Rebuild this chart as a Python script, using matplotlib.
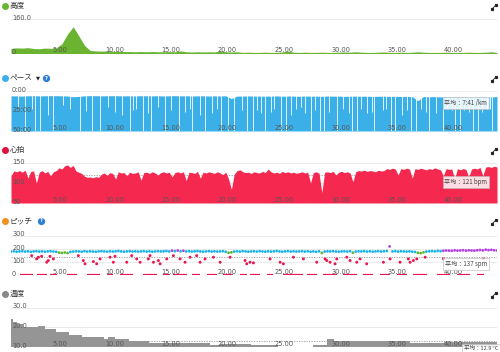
import numpy as np
import matplotlib
matplotlib.use('Agg')
import matplotlib.pyplot as plt
from matplotlib.lines import Line2D
from matplotlib.transforms import blended_transform_factory

plt.rcParams['font.family'] = ['Noto Sans CJK JP', 'DejaVu Sans']

# datos (distancia en km)
elev_km = np.arange(0, 43.01, 0.5)
elev_m = [24, 26, 25, 27, 23, 22, 25, 24, 26,
          45, 90, 124, 82, 38, 14,
          12, 11, 12, 10, 11,
          9, 9, 8, 9, 8, 9, 8, 8, 9, 8, 12, 8, 7, 8, 7, 8, 7, 12, 8, 7, 8,
          5, 6, 5, 5, 6, 5, 5, 7, 11, 6,
          5, 6, 5, 5, 6, 5, 5, 6, 7, 6,
          8, 6, 5, 5, 6, 7, 5, 5, 6, 5,
          6, 8, 6, 5, 5, 5, 6, 5, 5, 5,
          6, 5, 5, 6, 8, 5]

pace_km = np.arange(0, 43.01, 0.5)
pace_min = [6.0, 6.2, 6.4, 6.0, 5.9, 6.1, 6.0, 5.8, 5.9, 6.0,
            6.3, 7.2, 6.8, 6.0, 5.8, 5.9, 6.1, 6.0, 5.9, 6.0,
            6.1, 6.0, 6.2, 5.9, 6.0, 6.1, 6.0, 6.2, 6.0, 5.9,
            6.1, 6.0, 6.2, 6.1, 6.0, 6.3, 6.1, 6.2, 6.0, 9.5,
            6.4, 6.3, 6.2, 6.4, 6.3, 6.5, 6.4, 6.2, 6.5, 6.3,
            6.4, 6.6, 6.3, 6.5, 6.4, 6.6, 6.3, 6.5, 6.4, 6.7,
            6.5, 6.4, 6.6, 6.5, 6.8, 6.6, 6.5, 6.7, 6.6, 6.9,
            6.7, 7.0, 12.0, 6.9, 7.2, 7.0, 7.4, 7.1, 7.5, 7.3,
            7.6, 7.2, 7.8, 7.4, 7.6, 7.3, 7.0]
# tramos lentos (paradas) -> rayas blancas
spike_km = [0.6, 1.2, 1.9, 2.1, 2.6, 3.3, 3.7, 4.6, 5.2, 6.1, 6.6, 7.2, 7.9, 8.6, 9.2,
            9.8, 10.5, 10.8, 11.1, 11.7, 12.1, 12.4, 13.0, 13.6, 14.2, 14.9, 15.4,
            15.8, 16.0, 16.7, 17.2, 17.8, 18.2, 18.6, 19.2, 19.7, 20.4, 20.9, 21.4,
            21.8, 22.1, 22.5, 23.0, 23.3, 23.9, 24.3, 24.8, 25.2, 25.7, 26.0, 26.5,
            26.9, 27.3, 27.7, 28.1, 28.8, 29.4, 29.9, 30.2, 30.6, 31.0, 31.5, 31.9,
            32.1, 32.9, 33.2, 33.6, 34.0, 34.6, 35.0, 35.4, 35.8, 36.3, 36.7, 37.0,
            37.6, 38.2, 38.6, 39.0, 39.3, 39.7, 40.1, 40.5, 40.9, 41.3, 41.7, 42.1,
            42.4, 42.6]
spike_pace = [20, 50, 22, 50, 50, 30, 50, 18, 22, 50, 25, 50, 50, 20, 26,
              30, 50, 24, 22, 50, 28, 50, 20, 50, 24, 50, 26,
              22, 50, 30, 50, 28, 22, 50, 50, 50, 24, 50, 50,
              24, 28, 50, 26, 22, 50, 50, 30, 22, 20, 28, 50,
              24, 50, 50, 26, 50, 22, 28, 50, 50, 22, 28, 26,
              50, 24, 22, 50, 50, 30, 24, 50, 50, 22, 26, 50,
              28, 50, 22, 24, 50, 50, 24, 26, 50, 50, 26, 22,
              22, 50]

hr_km = np.arange(0, 43.01, 0.25)
hr_bpm = [118, 130, 128, 131, 127, 132, 112, 129, 130, 100, 127, 131,
          125, 129, 118, 128, 131, 138, 135, 143, 145, 139, 144, 130,
          127, 124, 117, 114, 115, 113, 116, 114, 122, 125, 119, 126,
          124, 110, 128, 125, 126, 118, 127, 124, 125, 128, 107, 126,
          127, 124, 128, 125, 120, 126, 128, 125, 127, 115, 126, 128,
          125, 128, 106, 127, 126, 124, 129, 112, 127, 125, 128, 126,
          124, 128, 125, 121, 127, 110, 84, 122, 131, 133, 128, 126,
          127, 124, 128, 126, 125, 129, 126, 135, 128, 125, 127, 124,
          129, 126, 128, 125, 127, 124, 126, 128, 125, 127, 100, 126,
          128, 125, 76, 127, 128, 126, 129, 120, 127, 129, 126, 128,
          125, 103, 128, 131, 130, 132, 129, 131, 130, 128, 132, 130,
          131, 136, 134, 137, 135, 120, 136, 134, 137, 135, 112, 136,
          134, 137, 135, 133, 136, 134, 138, 135, 133, 118, 136, 134,
          135, 110, 136, 133, 136, 134, 115, 135, 137, 135, 139, 118,
          140, 141, 139, 142, 140]

cad_km = np.arange(0, 43.01, 0.25)
cad_spm = [178, 180, 177, 179, 181, 178, 180, 176, 179, 181, 178, 180,
           177, 179, 181, 178, 176, 170, 168, 171, 167, 175, 178, 180,
           179, 177, 181, 178, 180, 178, 176, 179, 181, 179, 177, 180,
           178, 180, 182, 179, 177, 179, 181, 178, 180, 178, 179, 181,
           178, 180, 177, 179, 181, 179, 180, 182, 179, 185, 181, 186,
           180, 184, 179, 181, 178, 180, 182, 179, 177, 179, 181, 178,
           180, 178, 179, 181, 176, 169, 172, 178, 180, 178, 181, 179,
           177, 179, 180, 178, 181, 179, 177, 180, 178, 180, 182, 179,
           177, 179, 181, 178, 180, 178, 179, 181, 178, 180, 177, 179,
           176, 180, 168, 178, 180, 179, 181, 178, 177, 179, 180, 178,
           181, 170, 178, 180, 179, 181, 178, 180, 177, 179, 181, 178,
           180, 182, 217, 179, 181, 178, 180, 179, 178, 180, 177, 175,
           168, 166, 172, 178, 180, 182, 179, 183, 181, 184, 186, 185,
           184, 187, 185, 186, 188, 185, 187, 186, 185, 188, 190, 187,
           192, 189, 191, 188, 186]
low_km = [1.83, 2.27, 2.42, 2.71, 3.16, 3.30, 3.45, 3.75, 5.96, 6.40, 6.55, 7.29,
          7.58, 7.88, 8.76, 9.06, 9.20, 10.24, 10.68, 11.12, 11.42, 12.15, 12.30,
          12.60, 13.04, 13.19, 13.78, 14.37, 14.96, 15.40, 15.84, 16.43, 16.73,
          17.17, 17.91, 18.50, 19.38, 20.71, 20.86, 21.15, 21.45, 22.92, 23.81,
          24.10, 24.99, 25.87, 27.05, 27.79, 27.94, 28.23, 28.67, 28.82, 29.71,
          30.00, 30.59, 30.88, 31.47, 32.95, 33.54, 34.42, 35.16, 35.31, 35.60,
          35.90, 36.64, 38.27, 41.81]
low_spm = [147, 122, 135, 142, 97, 110, 142, 122, 147, 110, 85, 102,
           85, 122, 135, 97, 142, 97, 147, 122, 97, 122, 147,
           97, 110, 85, 122, 147, 122, 97, 135, 147, 97,
           122, 135, 97, 135, 110, 85, 97, 92, 122, 97,
           85, 135, 122, 97, 122, 110, 97, 85, 122, 135,
           110, 97, 122, 85, 97, 122, 97, 122, 97, 110,
           122, 135, 122, 122]
zero_start = [0.80, 2.27, 3.45, 4.93, 6.70, 8.47, 9.65, 11.71, 13.48, 14.37, 16.00,
              17.32, 18.79, 20.27, 21.15, 22.62, 24.10, 26.17, 27.64, 29.41, 31.18,
              32.65, 34.13, 35.60, 37.67, 39.45, 41.22]
zero_end = [1.98, 3.16, 4.04, 5.81, 7.88, 9.06, 10.83, 12.89, 14.07, 15.55, 16.73,
            18.20, 19.68, 20.86, 22.04, 23.21, 25.87, 27.05, 28.82, 30.59, 32.06,
            33.54, 35.01, 36.78, 38.86, 40.63, 41.81]

temp_km = [0, 0.2, 0.5, 1.1, 2.4, 3.0, 4.0, 5.1, 6.3, 8.2, 8.6, 9.2, 10.4, 12.2,
           17.6, 18.5, 21.2, 23.6, 26.7, 28.0, 28.6, 35.3, 38.3, 43.0]
temp_c = [24.2, 22.8, 21.6, 20.3, 20.8, 19.1, 17.8, 16.2, 14.9, 14.0, 15.2, 14.0,
          12.9, 12.0, 10.8, 11.5, 10.8, 10.0, 11.0, 14.0, 12.9, 12.2, 12.7, 12.7]

xticks = [5, 10, 15, 20, 25, 30, 35, 40]

# colores
GREEN = '#6ab432'
BLUE = '#3bb0e8'
RED = '#f5294f'
GRAY = '#959595'
C_CYAN, C_GREEN, C_PURPLE, C_ORANGE, C_RED = '#1cb3e8', '#5cb82b', '#b53fe0', '#f09a20', '#e8174f'

W, H = 500, 352
fig = plt.figure(figsize=(5, 3.52), dpi=100)


def make_ax(top, bottom):
    ax = fig.add_axes([11 / W, 1 - bottom / H, 486 / W, (bottom - top) / H])
    ax.set_xlim(0, 43)
    ax.axis('off')
    return ax


def ylabels(ax, vals, texts):
    for v, t in zip(vals, texts):
        ax.axhline(v, color='#e8e8e8', lw=0.6, zorder=0)
        ax.annotate(t, xy=(0, v), xycoords=('axes fraction', 'data'), xytext=(0.8, 0.8),
                    textcoords='offset points', ha='left', va='center', fontsize=4.8,
                    color='#555555', family='DejaVu Sans', zorder=6, annotation_clip=False)


def xlabels(ax):
    tr = blended_transform_factory(ax.transData, ax.transAxes)
    for v in xticks:
        ax.text(v, 0.0, f'{v:.2f}', transform=tr, ha='right', va='bottom', fontsize=4.8,
                color='#555555', family='DejaVu Sans', zorder=6)


def avg_box(ax, x, y, t, fs=4.4):
    ax.text(x, y, t, transform=ax.transAxes, ha='center', va='center', fontsize=fs,
            color='#444444', zorder=7,
            bbox=dict(boxstyle='square,pad=0.3', fc='white', ec='#bbbbbb', lw=0.5, alpha=0.85))


def title(y, color, text):
    fig.add_artist(Line2D([5 / W], [1 - y / H], marker='o', markersize=4, color=color,
                          transform=fig.transFigure))
    fig.text(10 / W, 1 - y / H, text, fontsize=5.5, color='#333333', va='center', ha='left')
    # icono de ampliar
    yy = 1 - (y + 1) / H
    fig.add_artist(Line2D([492 / W, 496 / W], [yy - 2 / H, yy + 2 / H], lw=0.6, color='#222222',
                          marker='s', markersize=1.3, transform=fig.transFigure))


def help_icon(x, y):
    fig.add_artist(Line2D([x / W], [1 - y / H], marker='o', markersize=4.2, color='#2b7fd4',
                          transform=fig.transFigure))
    fig.text(x / W, 1 - y / H, '?', fontsize=3.6, color='white', ha='center', va='center',
             weight='bold', family='DejaVu Sans')


# 1) altura
ax1 = make_ax(19, 53.5)
ax1.set_ylim(0, 160)
ylabels(ax1, [160, 0], ['160.0', '0'])
ax1.fill_between(elev_km, elev_m, 0, color=GREEN, lw=0, zorder=2)
xlabels(ax1)
title(6, GREEN, '高度')

# 2) ritmo (eje invertido)
ax2 = make_ax(91, 131)
ax2.set_ylim(50, 0)
ylabels(ax2, [0, 25, 50], ['0:00', '25:00', '50:00'])
ax2.fill_between(pace_km, pace_min, 50, color=BLUE, lw=0, zorder=2)
ax2.vlines(spike_km, 0, spike_pace, color='white', lw=0.7, alpha=0.85, zorder=3)
xlabels(ax2)
avg_box(ax2, 0.936, 0.70, '平均：7:41 /km')
title(78, BLUE, 'ペース')
fig.text(37.5 / W, 1 - 78 / H, '▼', fontsize=3.8, color='#222222', ha='center', va='center',
         family='DejaVu Sans')
help_icon(46, 78)

# 3) pulso
ax3 = make_ax(163, 203)
ax3.set_ylim(50, 150)
ylabels(ax3, [150, 100, 50], ['150', '100', '50'])
ax3.axhline(121, color='#999999', lw=0.6, ls=(0, (1.5, 1.5)), zorder=1)
ax3.fill_between(hr_km, hr_bpm, 50, color=RED, lw=0, zorder=2)
xlabels(ax3)
avg_box(ax3, 0.936, 0.52, '平均：121 bpm')
title(150, '#e0103f', '心拍')

# 4) cadencia, color por zona
ax4 = make_ax(235.5, 275)
ax4.set_ylim(0, 300)
ylabels(ax4, [300, 200, 100, 0], ['300', '200', '100', '0'])
ax4.axhline(137, color='#999999', lw=0.6, ls=(0, (1.5, 1.5)), zorder=1)


def zone_color(v):
    if v >= 184:
        return C_PURPLE
    if v >= 174:
        return C_CYAN
    if v >= 164:
        return C_GREEN
    if v >= 153:
        return C_ORANGE
    return C_RED


ax4.hlines([3] * len(zero_start), zero_start, zero_end, color=C_RED, lw=1.6, zorder=3)
ax4.scatter(low_km, low_spm, s=4.5, c=[zone_color(v) for v in low_spm], lw=0, zorder=3)
ax4.scatter(cad_km, cad_spm, s=4, c=[zone_color(v) for v in cad_spm], lw=0, zorder=4)
xlabels(ax4)
avg_box(ax4, 0.936, 0.28, '平均：137 spm')
title(221, '#f0901e', 'ピッチ')
help_icon(41, 221)

# 5) temperatura
ax5 = make_ax(307.5, 347)
ax5.set_ylim(10, 30)
ylabels(ax5, [30, 20, 10], ['30.0', '20.0', '10.0'])
ax5.axhline(12.9, color='#999999', lw=0.6, ls=(0, (1.5, 1.5)), zorder=1)
ax5.fill_between(temp_km, temp_c, 10, step='post', color=GRAY, lw=0, zorder=2)
xlabels(ax5)
avg_box(ax5, 0.967, -0.03, '平均：12.9 °C', fs=4.0)
title(294, '#888888', '温度')

fig.savefig('out.png', dpi=100)
